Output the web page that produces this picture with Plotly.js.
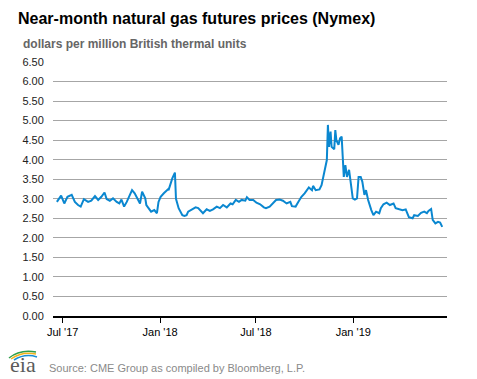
<!DOCTYPE html>
<html>
<head>
<meta charset="utf-8">
<script src="https://cdn.plot.ly/plotly-3.0.1.min.js"></script>
<style>
html,body{margin:0;padding:0;background:#fff;}
#chart{width:477px;height:379px;}
</style>
</head>
<body>
<div id="chart"></div>
<script>
// Near-month natural gas futures prices (Nymex), dollars per MMBtu
const dates = [
"2017-06-20","2017-06-28","2017-07-04","2017-07-10","2017-07-18","2017-07-24","2017-07-30","2017-08-04",
"2017-08-10","2017-08-18","2017-08-24","2017-08-31","2017-09-06","2017-09-12","2017-09-18","2017-09-22",
"2017-09-28","2017-10-04","2017-10-11","2017-10-16","2017-10-20","2017-10-25","2017-10-30","2017-11-06",
"2017-11-09","2017-11-14","2017-11-20","2017-11-24","2017-11-28","2017-12-04","2017-12-06","2017-12-11",
"2017-12-15","2017-12-21","2017-12-26","2017-12-29","2018-01-02","2018-01-08","2018-01-11","2018-01-16",
"2018-01-17","2018-01-22","2018-01-24","2018-01-29","2018-01-31","2018-02-05","2018-02-08","2018-02-12",
"2018-02-16","2018-02-20","2018-02-23","2018-03-01","2018-03-09","2018-03-14","2018-03-19","2018-03-23",
"2018-03-30","2018-04-05","2018-04-11","2018-04-18","2018-04-24","2018-04-30","2018-05-07","2018-05-14",
"2018-05-18","2018-05-24","2018-05-30","2018-06-04","2018-06-11","2018-06-14","2018-06-19","2018-06-26",
"2018-07-02","2018-07-09","2018-07-16","2018-07-20","2018-07-27","2018-08-02","2018-08-08","2018-08-15",
"2018-08-21","2018-08-28","2018-09-04","2018-09-07","2018-09-14","2018-09-19","2018-09-25","2018-10-01",
"2018-10-05","2018-10-09","2018-10-15","2018-10-17","2018-10-22","2018-10-29","2018-11-02","2018-11-05",
"2018-11-09","2018-11-12","2018-11-14","2018-11-16","2018-11-19","2018-11-21","2018-11-26","2018-11-28",
"2018-11-30","2018-12-04","2018-12-07","2018-12-10","2018-12-12","2018-12-14","2018-12-17","2018-12-20",
"2018-12-24","2018-12-27","2018-12-31","2019-01-04","2019-01-08","2019-01-11","2019-01-15","2019-01-18",
"2019-01-22","2019-01-25","2019-01-29","2019-02-04","2019-02-08","2019-02-13","2019-02-19","2019-02-22",
"2019-02-27","2019-03-05","2019-03-11","2019-03-18","2019-03-22","2019-03-29","2019-04-04","2019-04-10",
"2019-04-16","2019-04-23","2019-04-26","2019-05-03","2019-05-09","2019-05-15","2019-05-20","2019-05-23",
"2019-05-28","2019-05-31","2019-06-05","2019-06-10","2019-06-14","2019-06-18"
];
const prices = [
2.92,3.08,2.88,3.05,3.10,2.92,2.84,2.80,
2.99,2.92,2.95,3.07,2.97,3.05,3.16,2.99,
2.95,3.01,2.92,2.88,2.98,2.80,2.92,3.14,
3.22,3.14,2.97,2.88,3.18,3.01,2.84,2.76,
2.67,2.71,2.63,2.92,3.05,3.14,3.18,3.24,
3.22,3.48,3.52,3.67,3.00,2.76,2.67,2.58,
2.56,2.58,2.67,2.71,2.78,2.76,2.67,2.63,
2.73,2.69,2.73,2.80,2.76,2.84,2.78,2.88,
2.86,2.97,2.92,2.97,2.95,3.04,2.97,2.97,
2.90,2.86,2.78,2.76,2.80,2.88,2.97,2.98,
2.95,2.88,2.92,2.81,2.80,2.92,3.05,3.14,
3.22,3.29,3.22,3.33,3.22,3.24,3.35,3.56,
3.74,3.99,4.89,4.33,4.72,4.33,4.27,4.76,
4.50,4.38,4.55,4.59,4.08,3.56,3.86,3.56,
3.74,3.48,3.01,2.98,3.01,3.56,3.56,3.44,
3.10,3.22,2.97,2.71,2.58,2.67,2.63,2.76,
2.86,2.90,2.84,2.88,2.76,2.73,2.71,2.73,
2.53,2.50,2.58,2.56,2.64,2.67,2.63,2.69,
2.74,2.46,2.37,2.41,2.39,2.28
];
const xTickVals = ["2017-07-01","2018-01-01","2018-07-01","2019-01-01"];
const xTickText = ["Jul '17","Jan '18","Jul '18","Jan '19"];
const titleText = "Near-month natural gas futures prices (Nymex)";
const unitsText = "dollars per million British thermal units";
const sourceText = "Source: CME Group as compiled by Bloomberg, L.P.";

const FONT = "'Liberation Sans', Arial, Helvetica, sans-serif";
const W = 477, H = 379, L = 53, R = 30, T = 62, B = 63;
const pw = W - L - R, ph = H - T - B;
const px = v => (v - L) / pw;          // pixel x -> paper x
const py = v => (H - B - v) / ph;      // pixel y -> paper y

const trace = {
  x: dates, y: prices, type: 'scatter', mode: 'lines',
  line: {color: '#0a87d0', width: 2}, hoverinfo: 'x+y'
};

function arc(x0, y0, cx, cy, x1, y1) {
  return `M ${px(x0)} ${py(y0)} Q ${px(cx)} ${py(cy)} ${px(x1)} ${py(y1)}`;
}

const layout = {
  width: W, height: H,
  margin: {l: L, r: R, t: T, b: B, pad: 0},
  paper_bgcolor: '#fff', plot_bgcolor: '#fff',
  showlegend: false,
  font: {family: FONT, size: 11, color: '#222'},
  title: {text: titleText, x: 18 / W, xanchor: 'left', xref: 'container',
          y: 1 - 18.5 / H, yanchor: 'middle', yref: 'container',
          font: {family: FONT, size: 16, color: '#000', weight: 'bold'}},
  xaxis: {
    type: 'date', range: ['2017-06-12 16:00', '2019-06-27'],
    tickmode: 'array', tickvals: xTickVals, ticktext: xTickText,
    showgrid: false, zeroline: false,
    showline: true, linecolor: '#000', linewidth: 2,
    ticks: 'outside', ticklen: 5, tickwidth: 1, tickcolor: '#000',
    tickfont: {family: FONT, size: 11, color: '#000'}
  },
  yaxis: {
    range: [0, 6.5], tick0: 0, dtick: 0.5, tickformat: '.2f',
    showgrid: true, gridcolor: '#a6a6a6', gridwidth: 1,
    zeroline: false, showline: false,
    ticks: 'outside', ticklen: 6, tickcolor: 'rgba(0,0,0,0)',
    tickfont: {family: FONT, size: 11, color: '#222'}
  },
  annotations: [
    {text: unitsText, xref: 'paper', yref: 'paper', x: px(21), y: py(44),
     xanchor: 'left', yanchor: 'middle', showarrow: false,
     font: {family: FONT, size: 12, color: '#666', weight: 'bold'}},
    {text: sourceText, xref: 'paper', yref: 'paper', x: px(47), y: py(367.5),
     xanchor: 'left', yanchor: 'middle', showarrow: false,
     font: {family: FONT, size: 11, color: '#8a8a8a'}},
    {text: 'eia', xref: 'paper', yref: 'paper', x: px(8), y: py(364),
     xanchor: 'left', yanchor: 'middle', showarrow: false,
     font: {family: "'Liberation Serif', 'DejaVu Serif', serif", size: 22, color: '#5b5b5b'}}
  ],
  shapes: [
    {type: 'path', xref: 'paper', yref: 'paper', path: arc(9, 358, 20, 349, 36, 352),
     line: {color: '#2e9e4a', width: 1.5}},
    {type: 'path', xref: 'paper', yref: 'paper', path: arc(11, 359, 22, 351, 36, 354),
     line: {color: '#f2b31c', width: 1.5}},
    {type: 'path', xref: 'paper', yref: 'paper', path: arc(14, 360, 25, 353, 37, 357),
     line: {color: '#1a8fd6', width: 1.5}}
  ]
};

Plotly.newPlot('chart', [trace], layout, {displayModeBar: false, staticPlot: true});
</script>
</body>
</html>
